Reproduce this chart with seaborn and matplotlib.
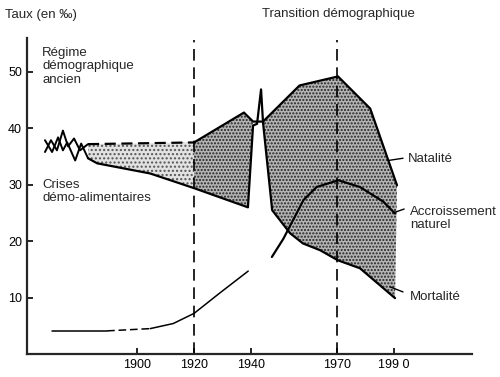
import numpy as np
import matplotlib
matplotlib.use('Agg')
import matplotlib.pyplot as plt
import seaborn as sns

# ---- data (years, rates in per mille) ----
# ancient regime: crossing zigzags of births and deaths
natal_zig_years = [1867.7, 1869.8, 1871.9, 1874.0, 1875.8, 1877.9, 1880.0, 1882.8]
natal_zig_vals = [35.8, 37.9, 36.1, 39.6, 36.8, 38.2, 36.1, 37.2]
mort_zig_years = [1867.7, 1870.2, 1872.3, 1874.0, 1875.5, 1878.3, 1880.4, 1882.8]
mort_zig_vals = [37.9, 35.8, 38.4, 36.1, 37.5, 34.3, 37.3, 34.7]

# birth rate
natal_dash_years = [1882.8, 1920]
natal_dash_vals = [37.2, 37.5]
natal_years = [1920, 1937.5, 1940.7, 1944.2, 1957, 1970.5, 1981.8, 1991.2]
natal_vals = [37.5, 42.8, 41.2, 41.2, 47.6, 49.2, 43.5, 29.9]

# death rate
mort_years = [1882.8, 1886.0, 1904.6, 1920, 1938.9, 1940.7, 1942.1, 1943.5,
              1944.2, 1947.4, 1953.7, 1958.2, 1964.2, 1970.5, 1978.2, 1990.5]
mort_vals = [34.7, 33.8, 32.0, 29.4, 26.0, 40.5, 40.8, 46.9,
             41.0, 25.5, 21.4, 19.6, 18.4, 16.6, 15.2, 9.9]

# natural increase
acc_early_years = [1870.2, 1889.5]
acc_early_vals = [4.1, 4.1]
acc_dash_years = [1889.5, 1904.6]
acc_dash_vals = [4.1, 4.5]
acc_mid_years = [1904.6, 1912.7, 1920, 1929, 1939]
acc_mid_vals = [4.5, 5.4, 7.2, 10.8, 14.7]
acc_late_years = [1947.3, 1951.3, 1958.4, 1963, 1970.6, 1978.2, 1986.4, 1990.5]
acc_late_vals = [17.2, 20.4, 27.3, 29.6, 30.8, 29.6, 27.0, 24.9]

x_ticks = [1900, 1920, 1940, 1970, 1990]
x_labels = ['1900', '1920', '1940', '1970', '199 0']
y_ticks = [10, 20, 30, 40, 50]

sns.set_style('ticks')
plt.rcParams['font.family'] = ['Liberation Sans', 'DejaVu Sans']

fig = plt.figure(figsize=(5, 3.77), dpi=100)
ax = fig.add_axes([0.054, 0.061, 0.89, 0.838])

nx, ny = np.array(natal_years), np.array(natal_vals)
mx, my = np.array(mort_years), np.array(mort_vals)

def band(x1, y1, x2, y2, lo, hi, **kw):
    a = (x1 >= lo) & (x1 <= hi)
    b = (x2 >= lo) & (x2 <= hi)
    ax.fill(np.r_[x1[a], x2[b][::-1]], np.r_[y1[a], y2[b][::-1]], lw=0, **kw)

shade = dict(facecolor='#b4b4b4', edgecolor='#222222', hatch='.....')
band(np.array(natal_dash_years), np.array(natal_dash_vals), mx, my, 1882.8, 1920,
     facecolor='#e2e2e2', edgecolor='#555555', hatch='....')
band(nx, ny, mx, my, 1920, 1940.7, **shade)
band(nx, ny, mx, my, 1944.2, 1992, **shade)

kw = dict(ax=ax, color='black', estimator=None, sort=False, legend=False)
sns.lineplot(x=natal_zig_years, y=natal_zig_vals, lw=1.4, **kw)
sns.lineplot(x=mort_zig_years, y=mort_zig_vals, lw=1.4, **kw)
sns.lineplot(x=natal_dash_years, y=natal_dash_vals, lw=1.6,
             linestyle=(0, (5, 2.5)), **kw)
sns.lineplot(x=natal_years, y=natal_vals, lw=1.6, **kw)
sns.lineplot(x=mort_years, y=mort_vals, lw=1.6, **kw)
sns.lineplot(x=acc_early_years, y=acc_early_vals, lw=1.1, **kw)
sns.lineplot(x=acc_dash_years, y=acc_dash_vals, lw=1.1,
             linestyle=(0, (5, 2.5)), **kw)
sns.lineplot(x=acc_mid_years, y=acc_mid_vals, lw=1.1, **kw)
sns.lineplot(x=acc_late_years, y=acc_late_vals, lw=1.6, **kw)

# the two phase boundaries
ax.vlines([1920, 1970], 0, 55.6, colors='black', lw=1.2,
          linestyles=[(0, (7, 4))])

ax.set_xlim(1861.4, 2017.5)
ax.set_ylim(0, 56)
ax.set_xticks(x_ticks)
ax.set_xticklabels(x_labels)
ax.set_yticks(y_ticks)
ax.set_xlabel('')
ax.set_ylabel('')
sns.despine(ax=ax)
for s in ['left', 'bottom']:
    ax.spines[s].set_linewidth(1.6)
ax.tick_params(direction='in', length=4.5, width=1.2, labelsize=9, pad=3.5,
               colors='black')

fs = 9.5
ax.text(1866.7, 54.4, 'Régime\ndémographique\nancien', fontsize=fs,
        va='top', linespacing=1.15)
ax.text(1866.7, 31.1, 'Crises\ndémo-alimentaires', fontsize=fs,
        va='top', linespacing=1.15)

# labels with leader lines
ax.plot([1988.1, 1993.3], [34.3, 34.7], color='black', lw=1)
ax.text(1995.1, 34.6, 'Natalité', fontsize=fs, va='center')
ax.plot([1989.8, 1993.7], [25.0, 25.7], color='black', lw=1)
ax.text(1995.8, 26.3, 'Accroissement\nnaturel', fontsize=fs, va='top',
        linespacing=1.15)
ax.plot([1988.8, 1993.3], [11.9, 11.0], color='black', lw=1)
ax.text(1995.8, 10.1, 'Mortalité', fontsize=fs, va='center')

fig.text(0.01, 0.96, 'Taux (en ‰)', fontsize=fs, va='center')
fig.text(0.524, 0.963, 'Transition démographique', fontsize=fs, va='center')

fig.savefig('out.png', dpi=100)
